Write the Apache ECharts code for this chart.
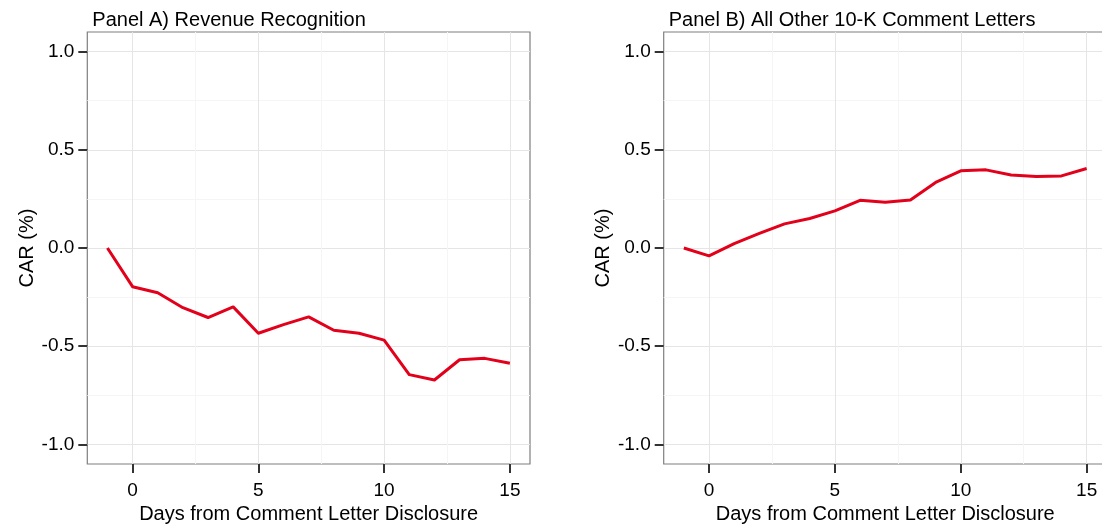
<!DOCTYPE html>
<html>
<head>
<meta charset="utf-8">
<script src="https://cdn.jsdelivr.net/npm/echarts@6/dist/echarts.min.js"></script>
<style>html,body{margin:0;padding:0;background:#fff}#c{width:1102px;height:527px}</style>
</head>
<body>
<div id="c"></div>
<script>
const days = [-1,0,1,2,3,4,5,6,7,8,9,10,11,12,13,14,15];
const carRevenue = [0.0,-0.197,-0.228,-0.304,-0.354,-0.300,-0.434,-0.390,-0.351,-0.419,-0.434,-0.469,-0.645,-0.672,-0.569,-0.562,-0.587];
const carOther = [0.0,-0.040,0.022,0.074,0.123,0.150,0.189,0.243,0.233,0.244,0.334,0.393,0.398,0.372,0.364,0.367,0.405];
const xTicks = [0,5,10,15];
const xMinor = [2.5,7.5,12.5];
const yTicks = [-1.0,-0.5,0.0,0.5,1.0];
const yMinor = [-0.75,-0.25,0.25,0.75];
const panelTitles = ['Panel A) Revenue Recognition','Panel B) All Other 10-K Comment Letters'];
const xName = 'Days from Comment Letter Disclosure';
const yName = 'CAR (%)';

const FONT = 'Liberation Sans';
const grids = [
  {left: 87.3, top: 32, width: 442.7, height: 432},
  {left: 663.7, top: 32, width: 443.1, height: 432}
];
const X_MIN = -1.8, X_MAX = 15.8, Y_MIN = -1.1, Y_MAX = 1.1;

const option = {
  animation: false,
  backgroundColor: '#fff',
  title: panelTitles.map((t, i) => ({
    text: t, left: grids[i].left, top: 5,
    textStyle: {fontFamily: FONT, fontSize: 20, fontWeight: 'normal', color: '#000'}
  })),
  grid: grids.map(g => Object.assign({show: true, borderColor: '#7f7f7f', borderWidth: 1.2, backgroundColor: '#fff',
    containLabel: false, outerBoundsMode: 'none'}, g)),
  xAxis: [],
  yAxis: [],
  series: []
};

[0,1].forEach(i => {
  // minor grid axes
  option.xAxis.push({
    type: 'value', gridIndex: i, min: X_MIN, max: X_MAX,
    axisLine: {show: false, onZero: false}, axisLabel: {show: false},
    axisTick: {show: false, customValues: xMinor},
    splitLine: {show: true, lineStyle: {color: '#f5f5f5', width: 1}}
  });
  option.yAxis.push({
    type: 'value', gridIndex: i, min: Y_MIN, max: Y_MAX,
    axisLine: {show: false, onZero: false}, axisLabel: {show: false},
    axisTick: {show: false, customValues: yMinor},
    splitLine: {show: true, lineStyle: {color: '#f5f5f5', width: 1}}
  });
  // major axes
  option.xAxis.push({
    type: 'value', gridIndex: i, min: X_MIN, max: X_MAX, position: 'bottom',
    name: xName, nameLocation: 'middle', nameGap: 40,
    nameTextStyle: {fontFamily: FONT, fontSize: 20, color: '#000'},
    axisLine: {show: false, onZero: false},
    axisTick: {show: true, length: 9, customValues: xTicks, lineStyle: {color: '#333', width: 2}},
    axisLabel: {show: true, customValues: xTicks, margin: 17, fontFamily: FONT, fontSize: 19, color: '#000',
      formatter: v => String(v)},
    splitLine: {show: true, lineStyle: {color: '#e5e5e5', width: 1}}
  });
  option.yAxis.push({
    type: 'value', gridIndex: i, min: Y_MIN, max: Y_MAX, position: 'left',
    name: yName, nameLocation: 'middle', nameGap: 50,
    nameTextStyle: {fontFamily: FONT, fontSize: 20, color: '#000'},
    axisLine: {show: false, onZero: false},
    axisTick: {show: true, length: 9, customValues: yTicks, lineStyle: {color: '#333', width: 2}},
    axisLabel: {show: true, customValues: yTicks, margin: 13, fontFamily: FONT, fontSize: 19, color: '#000',
      formatter: v => v.toFixed(1)},
    splitLine: {show: true, lineStyle: {color: '#e5e5e5', width: 1}}
  });
});

const seriesData = [carRevenue, carOther];
seriesData.forEach((vals, i) => {
  option.series.push({
    type: 'line', xAxisIndex: i*2+1, yAxisIndex: i*2+1,
    data: days.map((d, k) => [d, vals[k]]),
    showSymbol: false, symbol: 'none',
    lineStyle: {color: '#e2001a', width: 3, join: 'round'},
    z: 5
  });
});

const chart = echarts.init(document.getElementById('c'), null, {renderer: 'canvas'});
chart.setOption(option);
</script>
</body>
</html>
